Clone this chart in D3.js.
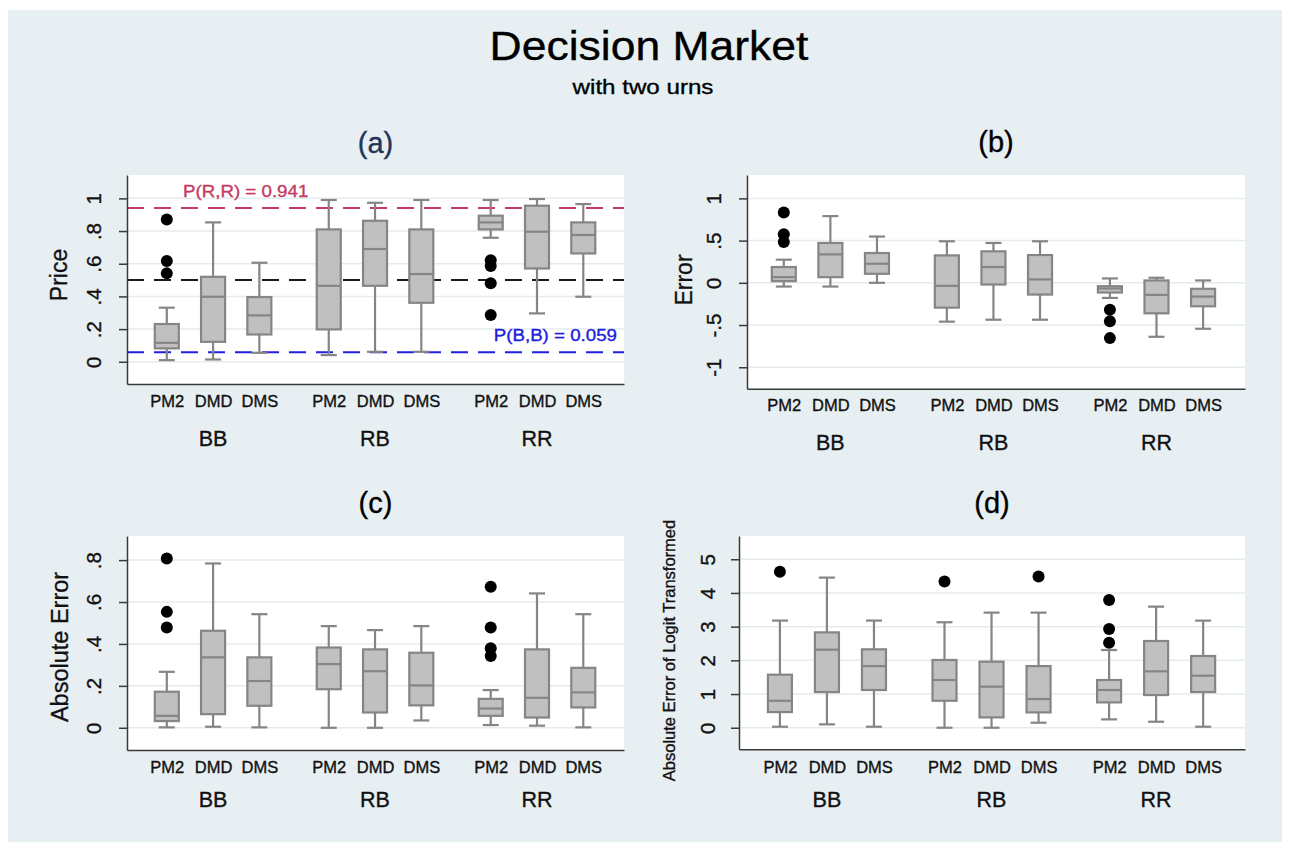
<!DOCTYPE html>
<html>
<head>
<meta charset="utf-8">
<title>Decision Market</title>
<script src="https://cdn.jsdelivr.net/npm/d3@7"></script>
<style>
  html, body { margin: 0; padding: 0; background: #ffffff; }
  svg { display: block; }
  text { font-family: 'Liberation Sans', Arial, Helvetica, sans-serif; }
</style>
</head>
<body>
<svg id="chart" width="1290" height="850"></svg>
<script>
// ---- categories ----
const groups = ["BB", "RB", "RR"];
const markets = ["PM2", "DMD", "DMS"];

// ---- box statistics: [lower whisker, q1, median, q3, upper whisker]
// order: BB PM2, BB DMD, BB DMS, RB PM2, RB DMD, RB DMS, RR PM2, RR DMD, RR DMS
const priceStats = [
  [0.010, 0.082, 0.116, 0.231, 0.331],
  [0.014, 0.122, 0.398, 0.520, 0.853],
  [0.055, 0.167, 0.284, 0.396, 0.606],
  [0.041, 0.198, 0.465, 0.810, 0.990],
  [0.061, 0.465, 0.690, 0.863, 0.973],
  [0.061, 0.361, 0.537, 0.810, 0.990],
  [0.759, 0.810, 0.853, 0.894, 0.990],
  [0.296, 0.571, 0.796, 0.955, 0.996],
  [0.398, 0.663, 0.776, 0.853, 0.965]
];
const priceOutliers = [[0.871, 0.616, 0.541], [], [], [], [], [], [0.622, 0.586, 0.480, 0.286], [], []];

const errorStats = [
  [-0.044, 0.020, 0.067, 0.187, 0.274],
  [-0.044, 0.067, 0.337, 0.472, 0.790],
  [0.000, 0.107, 0.226, 0.353, 0.548],
  [-0.460, -0.294, -0.036, 0.325, 0.492],
  [-0.437, -0.020, 0.187, 0.373, 0.472],
  [-0.437, -0.139, 0.040, 0.329, 0.492],
  [-0.179, -0.115, -0.067, -0.040, 0.052],
  [-0.639, -0.361, -0.143, 0.028, 0.060],
  [-0.544, -0.278, -0.163, -0.071, 0.028]
];
const errorOutliers = [[0.833, 0.575, 0.484], [], [], [], [], [], [-0.320, -0.455, -0.655], [], []];

const absErrorStats = [
  [0.002, 0.032, 0.057, 0.172, 0.267],
  [0.005, 0.065, 0.336, 0.463, 0.784],
  [0.002, 0.105, 0.223, 0.336, 0.542],
  [0.000, 0.184, 0.304, 0.383, 0.485],
  [0.000, 0.073, 0.270, 0.374, 0.466],
  [0.035, 0.107, 0.202, 0.358, 0.485],
  [0.013, 0.057, 0.092, 0.138, 0.180],
  [0.010, 0.049, 0.143, 0.374, 0.641],
  [0.002, 0.097, 0.169, 0.286, 0.542]
];
const absErrorOutliers = [[0.808, 0.553, 0.479], [], [], [], [], [], [0.673, 0.479, 0.379, 0.342], [], []];

const logitStats = [
  [0.030, 0.465, 0.800, 1.574, 3.180],
  [0.100, 1.059, 2.317, 2.830, 4.455],
  [0.030, 1.119, 1.830, 2.327, 3.180],
  [0.000, 0.800, 1.416, 2.010, 3.130],
  [0.000, 0.307, 1.218, 1.960, 3.416],
  [0.149, 0.455, 0.851, 1.830, 3.416],
  [0.248, 0.752, 1.119, 1.416, 2.307],
  [0.178, 0.970, 1.673, 2.574, 3.594],
  [0.030, 1.059, 1.545, 2.129, 3.178]
];
const logitOutliers = [[4.63], [], [], [4.34], [], [4.485], [3.79, 2.93, 2.525], [], []];

// ---- tick labels ----
const priceTicks = [0, 0.2, 0.4, 0.6, 0.8, 1];
const priceTickLabels = ["0", ".2", ".4", ".6", ".8", "1"];
const errorTicks = [-1, -0.5, 0, 0.5, 1];
const errorTickLabels = ["-1", "-.5", "0", ".5", "1"];
const absErrorTicks = [0, 0.2, 0.4, 0.6, 0.8];
const absErrorTickLabels = ["0", ".2", ".4", ".6", ".8"];
const logitTicks = [0, 1, 2, 3, 4, 5];
const logitTickLabels = ["0", "1", "2", "3", "4", "5"];

// ---- reference probabilities in the price panel ----
const refRR = 0.941;
const refHalf = 0.5;
const refBB = 0.059;

// ---- drawing ----
const svg = d3.select("#chart");
const W = 1290, H = 850;

svg.append("rect").attr("x", 0).attr("y", 0).attr("width", W).attr("height", H).attr("fill", "#ffffff");
svg.append("rect").attr("x", 8).attr("y", 10).attr("width", 1274).attr("height", 832).attr("fill", "#e8eff2");

// text with horizontally widened glyphs
function wideText(parent, x, y, sx, str, size, fill, anchor) {
  return parent.append("text")
    .attr("transform", `translate(${x},${y}) scale(${sx},1)`)
    .attr("text-anchor", anchor || "middle")
    .attr("font-size", size)
    .attr("fill", fill)
    .text(str);
}

wideText(svg, 649, 60, 1.085, "Decision Market", 41, "#000");
wideText(svg, 643, 94, 1.15, "with two urns", 21, "#000");

// position of each box in "slot" units: groups are 3.5 slots apart
const slot = (g, m) => g * 3.5 + m;

function drawPanel(cfg, stats, outliers, ticks, tickLabels) {
  const x = d3.scaleLinear().domain(cfg.xdom).range([cfg.x0, cfg.x1]);
  const y = d3.scaleLinear().domain(cfg.ydom).range([cfg.y1, cfg.y0]);
  const g = svg.append("g");

  // plot region
  g.append("rect")
    .attr("x", cfg.x0).attr("y", cfg.y0)
    .attr("width", cfg.x1 - cfg.x0).attr("height", cfg.y1 - cfg.y0)
    .attr("fill", "#ffffff");

  // grid
  g.append("g").selectAll("line").data(ticks).join("line")
    .attr("x1", cfg.x0).attr("x2", cfg.x1)
    .attr("y1", d => y(d)).attr("y2", d => y(d))
    .attr("stroke", "#e4ebee").attr("stroke-width", 1.5);

  // panel extras drawn under boxes
  if (cfg.under) cfg.under(g, x, y);

  // boxes
  const items = [];
  groups.forEach((gr, gi) => markets.forEach((mk, mi) => {
    const idx = gi * 3 + mi;
    items.push({ pos: slot(gi, mi), s: stats[idx], out: outliers[idx] });
  }));

  const boxW = 24, capW = 16;
  const stroke = "#858585";
  const bx = g.append("g").selectAll("g").data(items).join("g");

  // whiskers
  bx.append("line")
    .attr("x1", d => x(d.pos)).attr("x2", d => x(d.pos))
    .attr("y1", d => y(d.s[0])).attr("y2", d => y(d.s[1]))
    .attr("stroke", stroke).attr("stroke-width", 2.2);
  bx.append("line")
    .attr("x1", d => x(d.pos)).attr("x2", d => x(d.pos))
    .attr("y1", d => y(d.s[3])).attr("y2", d => y(d.s[4]))
    .attr("stroke", stroke).attr("stroke-width", 2.2);
  // caps
  [0, 4].forEach(k => {
    bx.append("line")
      .attr("x1", d => x(d.pos) - capW / 2).attr("x2", d => x(d.pos) + capW / 2)
      .attr("y1", d => y(d.s[k])).attr("y2", d => y(d.s[k]))
      .attr("stroke", stroke).attr("stroke-width", 2.2);
  });
  // interquartile box
  bx.append("rect")
    .attr("x", d => x(d.pos) - boxW / 2).attr("width", boxW)
    .attr("y", d => y(d.s[3])).attr("height", d => y(d.s[1]) - y(d.s[3]))
    .attr("fill", "#c0c0c0").attr("stroke", stroke).attr("stroke-width", 2.2);
  // median
  bx.append("line")
    .attr("x1", d => x(d.pos) - boxW / 2).attr("x2", d => x(d.pos) + boxW / 2)
    .attr("y1", d => y(d.s[2])).attr("y2", d => y(d.s[2]))
    .attr("stroke", stroke).attr("stroke-width", 2.2);
  // outliers
  bx.selectAll("circle").data(d => d.out.map(v => ({ pos: d.pos, v }))).join("circle")
    .attr("cx", d => x(d.pos)).attr("cy", d => y(d.v)).attr("r", 6)
    .attr("fill", "#000");

  // panel extras drawn above boxes
  if (cfg.over) cfg.over(g, x, y);

  // y axis
  const ya = g.append("g").attr("transform", `translate(${cfg.x0},0)`)
    .call(d3.axisLeft(y).tickValues(ticks).tickFormat((d, i) => tickLabels[i])
      .tickSize(8).tickSizeOuter(0));
  ya.select(".domain").attr("stroke", "#3a3a3a").attr("stroke-width", 1.5);
  ya.selectAll(".tick line").attr("stroke", "#3a3a3a").attr("stroke-width", 1.5);
  ya.selectAll(".tick text")
    .attr("x", 0).attr("dy", 0)
    .attr("text-anchor", "middle")
    .attr("transform", `translate(${-cfg.tickOff},0) rotate(-90)`)
    .attr("font-size", 20.5).attr("fill", "#111");

  // x axis
  const xa = g.append("g").attr("transform", `translate(0,${cfg.y1})`)
    .call(d3.axisBottom(x).tickValues(items.map(d => d.pos))
      .tickFormat((d, i) => markets[i % 3]).tickSize(0).tickSizeOuter(0).tickPadding(0));
  xa.select(".domain").attr("stroke", "#3a3a3a").attr("stroke-width", 1.5);
  xa.selectAll(".tick text")
    .attr("y", cfg.tickBase - cfg.y1).attr("dy", 0)
    .attr("font-size", 16.5).attr("fill", "#111");

  // group labels
  g.append("g").selectAll("text").data(groups).join("text")
    .attr("x", (d, i) => x(slot(i, 1)))
    .attr("y", cfg.groupBase)
    .attr("text-anchor", "middle")
    .attr("font-size", 21.5).attr("fill", "#111")
    .text(d => d);

  // y title
  g.append("text")
    .attr("transform", `translate(${cfg.ytX},${cfg.ytY}) rotate(-90)`)
    .attr("text-anchor", "middle")
    .attr("font-size", cfg.ytSize).attr("fill", "#111")
    .text(cfg.ytitle);

  // panel title
  g.append("text")
    .attr("x", (cfg.x0 + cfg.x1) / 2).attr("y", cfg.titleY)
    .attr("text-anchor", "middle")
    .attr("font-size", 29).attr("fill", cfg.titleColor)
    .text(cfg.title);
}

const dashed = "17,10";

drawPanel({
  x0: 127, x1: 624, y0: 175, y1: 384,
  xdom: [-0.86, 9.88], ydom: [-0.136, 1.143],
  tickOff: 26, tickBase: 406.5, groupBase: 445.5,
  ytitle: "Price", ytX: 67, ytY: 275, ytSize: 23,
  title: "(a)", titleY: 153, titleColor: "#1f3558",
  under: (g, x, y) => {
    const [a, b] = x.range();
    const refs = [
      { v: refRR, c: "#c43c5f" },
      { v: refHalf, c: "#1a1a1a" },
      { v: refBB, c: "#2020dd" }
    ];
    g.append("g").selectAll("line").data(refs).join("line")
      .attr("x1", a).attr("x2", b)
      .attr("y1", d => y(d.v)).attr("y2", d => y(d.v))
      .attr("stroke", d => d.c).attr("stroke-width", 2)
      .attr("stroke-dasharray", dashed);
    wideText(g, 183, y(refRR) - 11, 1.17, `P(R,R) = ${d3.format(".3f")(refRR)}`, 16, "#c43c5f", "start");
    wideText(g, 617, y(refBB) - 11, 1.17, `P(B,B) = ${d3.format(".3f")(refBB)}`, 16, "#2020dd", "end");
  }
}, priceStats, priceOutliers, priceTicks, priceTickLabels);

drawPanel({
  x0: 747, x1: 1245, y0: 175, y1: 388.7,
  xdom: [-0.79, 9.9], ydom: [-1.254, 1.277],
  tickOff: 26, tickBase: 411.5, groupBase: 450,
  ytitle: "Error", ytX: 691.5, ytY: 280, ytSize: 23,
  title: "(b)", titleY: 152, titleColor: "#000"
}, errorStats, errorOutliers, errorTicks, errorTickLabels);

drawPanel({
  x0: 127, x1: 624, y0: 536, y1: 750,
  xdom: [-0.86, 9.88], ydom: [-0.106, 0.915],
  tickOff: 26, tickBase: 772.5, groupBase: 807,
  ytitle: "Absolute Error", ytX: 68, ytY: 647, ytSize: 23.5,
  title: "(c)", titleY: 513, titleColor: "#000"
}, absErrorStats, absErrorOutliers, absErrorTicks, absErrorTickLabels);

drawPanel({
  x0: 739, x1: 1245, y0: 536, y1: 749.3,
  xdom: [-0.87, 9.89], ydom: [-0.64, 5.69],
  tickOff: 24.5, tickBase: 773.3, groupBase: 807,
  ytitle: "Absolute Error of Logit Transformed", ytX: 675, ytY: 650.5, ytSize: 16.5,
  title: "(d)", titleY: 513, titleColor: "#000"
}, logitStats, logitOutliers, logitTicks, logitTickLabels);

// slightly heavier glyphs
svg.selectAll("text").each(function () {
  const t = d3.select(this);
  t.attr("stroke", t.attr("fill")).attr("stroke-width", 0.35);
});
</script>
</body>
</html>
